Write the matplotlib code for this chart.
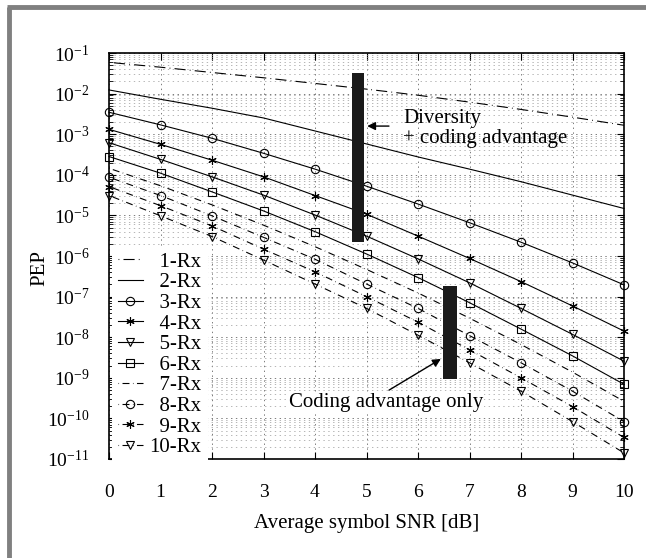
import numpy as np
import matplotlib.pyplot as plt
from matplotlib.lines import Line2D
from matplotlib.ticker import LogLocator, NullFormatter

plt.rcParams['font.family'] = ['Liberation Serif', 'DejaVu Serif']
plt.rcParams['mathtext.fontset'] = 'custom'
plt.rcParams['mathtext.rm'] = 'Liberation Serif'
plt.rcParams['mathtext.it'] = 'Liberation Serif:italic'
plt.rcParams['lines.scale_dashes'] = False

# SNR points (dB)
snr = [0, 1, 2, 3, 4, 5, 6, 7, 8, 9, 10]

# log10(PEP)
pep_1rx = [-1.23, -1.35, -1.48, -1.61, -1.75, -1.89, -2.04, -2.21, -2.39, -2.58, -2.78]
pep_2rx = [-1.91, -2.14, -2.36, -2.60, -2.92, -3.24, -3.56, -3.86, -4.17, -4.50, -4.83]
pep_3rx = [-2.46, -2.77, -3.10, -3.47, -3.86, -4.28, -4.72, -5.18, -5.66, -6.17, -6.71]
pep_4rx = [-2.88, -3.25, -3.64, -4.05, -4.51, -4.97, -5.51, -6.06, -6.63, -7.23, -7.85]
pep_5rx = [-3.21, -3.62, -4.05, -4.50, -4.99, -5.51, -6.07, -6.66, -7.29, -7.93, -8.59]
pep_6rx = [-3.55, -3.96, -4.42, -4.89, -5.40, -5.95, -6.53, -7.15, -7.80, -8.46, -9.16]
pep_7rx = [-3.84, -4.27, -4.74, -5.24, -5.77, -6.33, -6.91, -7.53, -8.18, -8.86, -9.58]
pep_8rx = [-4.06, -4.51, -5.01, -5.54, -6.08, -6.69, -7.29, -7.96, -8.63, -9.33, -10.08]
pep_9rx = [-4.29, -4.76, -5.26, -5.83, -6.39, -7.00, -7.63, -8.31, -9.00, -9.71, -10.47]
pep_10rx = [-4.51, -5.01, -5.52, -6.10, -6.69, -7.29, -7.95, -8.63, -9.33, -10.08, -10.85]

labels = ['1-Rx', '2-Rx', '3-Rx', '4-Rx', '5-Rx', '6-Rx', '7-Rx', '8-Rx', '9-Rx', '10-Rx']

# annotation bars: x range and log10 y range
bar_div_x = [4.71, 4.96]
bar_div_y = [-1.50, -5.65]
bar_cod_x = [6.49, 6.75]
bar_cod_y = [-6.73, -9.03]

series = [pep_1rx, pep_2rx, pep_3rx, pep_4rx, pep_5rx,
          pep_6rx, pep_7rx, pep_8rx, pep_9rx, pep_10rx]

dash_long = (0, (0.6, 3, 8, 3))
dash_short = (0, (0.4, 2.5, 5, 2.5))
star = (6, 2, 0)
styles = [
    dict(ls=dash_long, marker=None),
    dict(ls='-', marker=None),
    dict(ls='-', marker='o'),
    dict(ls='-', marker=star),
    dict(ls='-', marker='v'),
    dict(ls='-', marker='s'),
    dict(ls=dash_short, marker=None),
    dict(ls=dash_short, marker='o'),
    dict(ls=dash_short, marker=star),
    dict(ls=dash_short, marker='v'),
]

fig = plt.figure(figsize=(6.46, 5.58), dpi=100)
ax = fig.add_axes([109 / 646, 1 - 459 / 558, 515 / 646, 406 / 558])

# gray frame (top and left edges visible)
fig.add_artist(Line2D([8.5 / 646, 8.5 / 646], [0, 1 - 7 / 558], color='#808080', lw=3.5,
                      solid_capstyle='butt'))
fig.add_artist(Line2D([6.5 / 646, 1], [1 - 7 / 558, 1 - 7 / 558], color='#808080', lw=3.5,
                      solid_capstyle='butt'))

for vals, st, lab in zip(series, styles, labels):
    padded = lab.rjust(5, '\u2007')
    ax.plot(snr, 10.0 ** np.array(vals), color='k', lw=0.8, ls=st['ls'],
            marker=st['marker'], markersize=6, markerfacecolor='none',
            markeredgecolor='k', markeredgewidth=0.8, label=padded, clip_on=False,
            zorder=3)

ax.set_yscale('log')
ax.set_xlim(0, 10)
ax.set_ylim(1e-11, 1e-1)
ax.set_xticks(range(0, 11))
ax.yaxis.set_major_locator(LogLocator(base=10, numticks=20))
ax.yaxis.set_minor_locator(LogLocator(base=10, subs=np.arange(2, 10), numticks=20))
ax.yaxis.set_minor_formatter(NullFormatter())

ax.grid(True, which='major', color='#666666', ls=(0, (1, 2.5)), lw=0.6)
ax.grid(True, which='minor', axis='y', color='#999999', ls=(0, (1, 2.5)), lw=0.5)
ax.set_axisbelow(True)

ax.tick_params(which='both', direction='in', top=True, right=True, labelsize=14)
ax.tick_params(which='major', length=5, width=0.8)
ax.tick_params(which='minor', length=3, width=0.6)
ax.tick_params(axis='y', pad=14)
ax.tick_params(axis='x', pad=18)
for sp in ax.spines.values():
    sp.set_linewidth(1.2)

ax.set_xlabel('Average symbol SNR [dB]', fontsize=15)
ax.xaxis.set_label_coords(0.5, -0.135)
ax.set_ylabel('PEP', fontsize=15)
ax.yaxis.set_label_coords(-0.115, 0.47)

# annotations
ax.fill_between(bar_div_x, 10.0 ** bar_div_y[0], 10.0 ** bar_div_y[1], color='#1a1a1a',
                lw=0, zorder=4)
ax.fill_between(bar_cod_x, 10.0 ** bar_cod_y[0], 10.0 ** bar_cod_y[1], color='#1a1a1a',
                lw=0, zorder=4)

ax.annotate('', xy=(bar_div_x[1], 10 ** -2.80), xytext=(5.49, 10 ** -2.80),
            arrowprops=dict(arrowstyle='-|>', color='k', lw=1.0, mutation_scale=12),
            zorder=5)
ax.text(5.71, 10 ** -2.86, 'Diversity\n+ coding advantage', fontsize=15,
        ha='left', va='center', linespacing=1.05, zorder=5)

ax.annotate('', xy=(bar_cod_x[0], 10 ** -8.50), xytext=(5.39, 10 ** -9.34),
            arrowprops=dict(arrowstyle='-|>', color='k', lw=1.0, mutation_scale=12),
            zorder=5)
ax.text(3.5, 10 ** -9.62, 'Coding advantage only', fontsize=15, ha='left',
        va='center', zorder=5,
        bbox=dict(facecolor='white', edgecolor='none', pad=0.5))

leg = ax.legend(loc='upper left', bbox_to_anchor=(0.005, 0.525), frameon=True,
                fancybox=False, edgecolor='none', facecolor='white', framealpha=1,
                fontsize=15, handlelength=1.2, handletextpad=0.3,
                labelspacing=0.05, borderpad=0.3, borderaxespad=0.0)
leg.set_zorder(6)

plt.savefig('out.png', dpi=100)
